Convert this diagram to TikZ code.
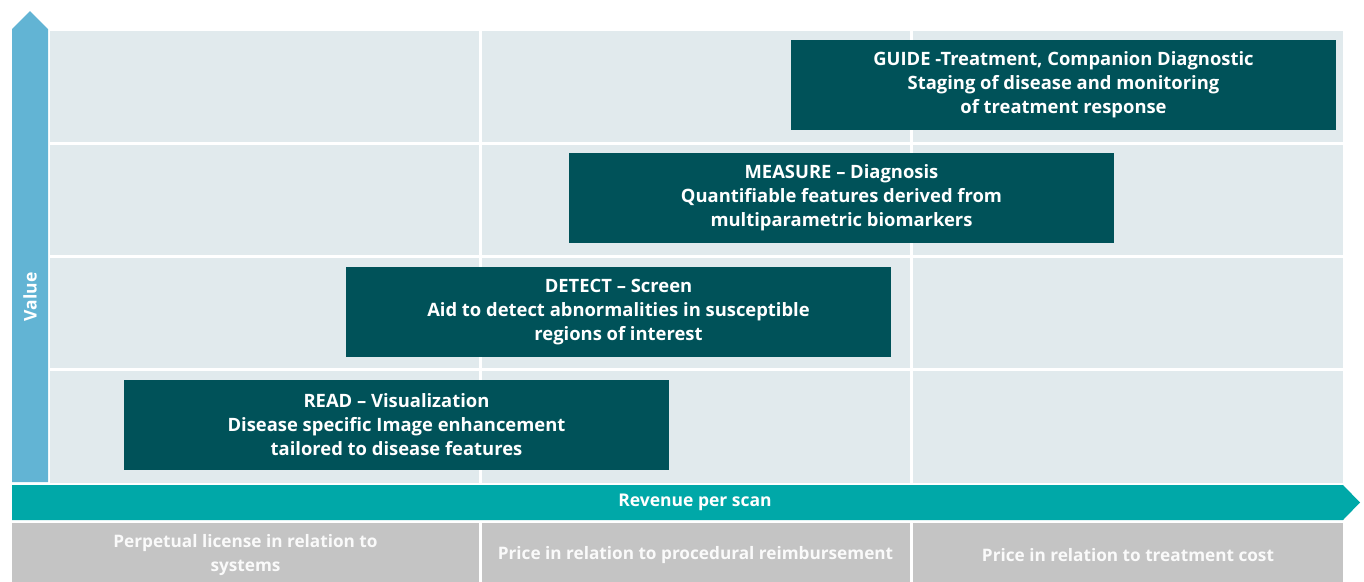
\documentclass[tikz,border=0pt]{standalone}
\usepackage{fontspec}
\setmainfont{Open Sans}
\definecolor{valueblue}{HTML}{62B4D4}
\definecolor{revteal}{HTML}{00A8A8}
\definecolor{boxteal}{HTML}{005259}
\definecolor{gridbg}{HTML}{E1EAED}
\definecolor{pricegray}{HTML}{C4C4C4}
\definecolor{pricetext}{HTML}{FAFAFA}
\begin{document}
\begin{tikzpicture}[x=1pt,y=-1pt]
      \tikzstyle{usecase}=[fill=boxteal,text=white,minimum width=545pt,minimum height=90pt,inner sep=0pt,align=center,font=\fontsize{18.4}{24}\selectfont\bfseries]
      \tikzstyle{pricecell}=[fill=pricegray,text=pricetext,minimum height=65pt,inner sep=0pt,align=center,font=\fontsize{17.2}{24}\selectfont\bfseries]
      \tikzstyle{gap}=[draw,white,line width=3pt]
      \useasboundingbox (0,0) rectangle (1364,581);
      % background grid
      \path[fill=gridbg] (50,31) rectangle (1343,483);
      \foreach \x in {480.5,911.5} \path[gap] (\x,31) -- (\x,483);
      \foreach \y in {143.5,256.5,369.5} \path[gap] (50,\y) -- (1343,\y);
      % axes
      \path[fill=valueblue] (12,482) -- (12,29) -- (30,11) -- (48,29) -- (48,482) -- cycle;
      \node[text=white,rotate=90,font=\fontsize{17.5}{20}\selectfont\bfseries] (value) at (30,297) {Value};
      \path[fill=revteal] (12,485) -- (1343,485) -- (1360,502.5) -- (1343,520) -- (12,520) -- cycle;
      \node[text=white,font=\fontsize{17.5}{20}\selectfont\bfseries] (revenue) at (695,502.5) {Revenue per scan};
      % pricing row
      \node[pricecell,minimum width=467pt] (license) at (245.5,555) {Perpetual license in relation to\\systems};
      \node[pricecell,minimum width=428pt] (reimb) at (695.5,555) {Price in relation to procedural reimbursement};
      \node[pricecell,minimum width=430pt] (cost) at (1128,555) {Price in relation to treatment cost};
      % use cases
      \node[usecase] (read) at (396.5,425) {READ -- Visualization\\Disease specific Image enhancement\\tailored to disease features};
      \node[usecase] (detect) at (618.5,312) {DETECT -- Screen\\Aid to detect abnormalities in susceptible\\regions of interest};
      \node[usecase] (measure) at (841.5,198) {MEASURE -- Diagnosis\\Quantifiable features derived from\\multiparametric biomarkers};
      \node[usecase] (guide) at (1063.5,85) {GUIDE -Treatment, Companion Diagnostic\\Staging of disease and monitoring\\of treatment response};
    \end{tikzpicture}
\end{document}
